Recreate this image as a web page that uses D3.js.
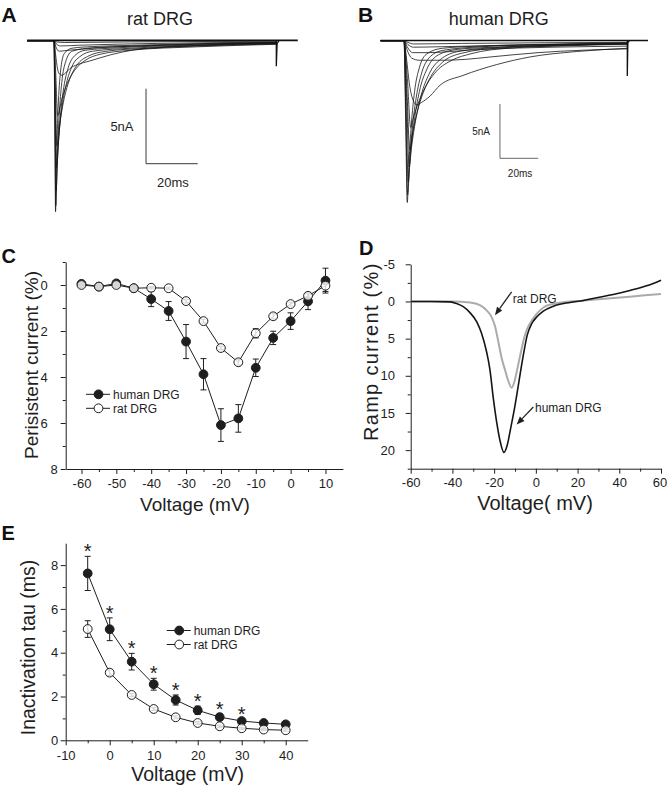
<!DOCTYPE html>
<html><head><meta charset="utf-8">
<script src="https://cdn.jsdelivr.net/npm/d3@7"></script>
<style>
body{margin:0;background:#fff}
svg{display:block;background:#fff}
</style>
</head><body>
<svg id="fig" width="667" height="786"></svg>
<script>
// ---------------- DATA ----------------
// Panel A: rat DRG current traces, [time ms, current nA]
const ratTraces = [
 [[0,0],[1,-0.08],[4,-0.12],[30,-0.08],[86,-0.04]],
 [[0,0],[0.8,-0.2],[2.5,-0.35],[10,-0.3],[40,-0.18],[86,-0.1]],
 [[0,0],[0.7,-0.4],[2,-0.7],[5,-0.65],[15,-0.5],[40,-0.3],[86,-0.15]],
 [[0,0],[0.6,-0.9],[1.4,-1.9],[2.3,-2.25],[3,-2.3],[4.5,-2.15],[6.2,-1.85],[9,-1.6],[13.9,-1.35],[21.7,-0.95],[30.6,-0.62],[43.7,-0.42],[65,-0.25],[86,-0.12]],
 [[0,0],[0.7,-2.3],[1.4,-5],[3,-3.9],[5,-2.9],[8,-1.97],[12,-1.32],[18,-0.9],[30,-0.63],[55,-0.41],[86,-0.24]],
 [[0,0],[0.55,-3.2],[1.1,-7],[2.5,-5.2],[4,-3.8],[6,-2.6],[9,-1.6],[13,-1.05],[20,-0.71],[35,-0.51],[60,-0.33],[86,-0.22]],
 [[0,0],[0.45,-3.8],[0.9,-8.5],[2,-6.1],[3.2,-4.3],[4.8,-2.85],[7,-1.7],[10,-1.06],[15,-0.7],[30,-0.5],[55,-0.33],[86,-0.19]],
 [[0,0],[0.4,-4.5],[0.8,-10],[1.5,-7.5],[2.5,-5.0],[3.8,-3.1],[5.5,-1.8],[8,-1.0],[12,-0.64],[25,-0.47],[50,-0.31],[86,-0.17]],
 [[0,0],[0.35,-5],[0.7,-11],[1.2,-8.1],[2,-5.0],[3,-2.8],[4.5,-1.4],[7,-0.7],[15,-0.47],[30,-0.37],[55,-0.24],[86,-0.14]],
 [[0,0],[0.3,-5.5],[0.6,-11.4],[1,-7.8],[1.6,-4.5],[2.5,-2.1],[4,-0.85],[7,-0.5],[15,-0.39],[30,-0.31],[55,-0.2],[86,-0.12]]
];
const ratSweep = {pre: -10.4, end: 86, post: 94.3, tail: -1.7};
// Panel B: human DRG current traces
const humanTraces = [
 [[0,0],[2,-0.15],[5,-0.3],[30,-0.25],[116.6,-0.15]],
 [[0,0],[2,-0.35],[5,-0.6],[20,-0.55],[60,-0.4],[116.6,-0.3]],
 [[0,0],[1.8,-0.6],[4.5,-1.1],[12,-1.1],[40,-0.8],[116.6,-0.5]],
 [[0,0],[1.5,-0.8],[4,-1.6],[8,-1.8],[20,-1.8],[32,-1.72],[45,-1.5],[70,-1.1],[116.6,-0.75]],
 [[0,0],[1.2,-1.5],[3,-4.2],[4.8,-5.5],[6.6,-5.9],[9,-5.7],[13.6,-5.1],[18.8,-4.1],[30.8,-3.2],[48.4,-2.2],[65.7,-1.5],[90,-1.0],[116.6,-0.7]],
 [[0,0],[1.75,-3.5],[3.5,-8],[5,-7.0],[8,-5.5],[12,-4.0],[17,-2.8],[25,-1.8],[35,-1.2],[55,-0.68],[85,-0.47],[116.6,-0.32]],
 [[0,0],[1.5,-4.5],[3,-10],[4.5,-8.5],[7,-6.5],[10,-4.8],[14,-3.3],[20,-2.0],[30,-1.16],[50,-0.67],[80,-0.46],[116.6,-0.29]],
 [[0,0],[1.35,-5.2],[2.7,-11.6],[4,-9.7],[6,-7.4],[9,-5.0],[13,-3.1],[20,-1.6],[30,-0.94],[50,-0.61],[80,-0.42],[116.6,-0.27]],
 [[0,0],[1.1,-6],[2.2,-13],[3.4,-10.4],[5.2,-7.6],[8,-4.7],[12,-2.6],[18,-1.3],[28,-0.8],[50,-0.58],[80,-0.4],[116.6,-0.25]],
 [[0,0],[0.95,-6.8],[1.9,-14.2],[3,-11.0],[4.5,-7.8],[6.5,-5.1],[9,-3.1],[13,-1.6],[20,-0.9],[40,-0.56],[70,-0.38],[116.6,-0.22]],
 [[0,0],[0.85,-7.2],[1.7,-14.9],[2.6,-11.2],[3.8,-7.8],[5.5,-4.7],[8,-2.5],[12,-1.2],[20,-0.7],[40,-0.49],[70,-0.34],[116.6,-0.2]]
];
const humanSweep = {pre: -12.2, end: 116.6, post: 127.4, tail: -3.25};
const scaleBarLabels = ["5nA", "20ms"];

// Panel C: persistent current (%)
const voltC = [-60,-55,-50,-45,-40,-35,-30,-25,-20,-15,-10,-5,0,5,10];
const humanPers    = [-0.05,0.07,-0.07,0.14,0.61,1.13,2.46,3.88,6.09,5.80,3.60,2.30,1.57,0.71,-0.19];
const humanPersErr = [0.05,0.05,0.08,0.05,0.33,0.41,0.74,0.68,0.71,0.60,0.38,0.29,0.36,0.36,0.54];
const ratPers      = [0.0,0.07,0.0,0.14,0.12,0.14,0.70,1.57,2.74,3.36,2.10,1.36,0.83,0.47,0.03];
const ratPersErr   = [0.05,0.05,0.12,0.05,0.05,0.05,0.08,0.08,0.08,0.12,0.20,0.12,0.08,0.12,0.25];
const ticksCx = [-60,-50,-40,-30,-20,-10,0,10];
const ticksCy = [0,2,4,6,8];

// Panel D: ramp current (%)
const rampVoltHuman = [-60,-50,-41,-38,-34.8,-31.6,-28.4,-26,-23.6,-22,-20.4,-18.8,-17.2,-15.3,-13.7,-12.1,-10.5,-8.4,-6.3,-4.1,-2,0.4,3.6,8.4,16.4,22.7,29.1,37.1,45.1,53.1,60];
const rampHuman     = [0,0,0.05,0.27,0.7,1.5,2.7,4.3,6.8,9.2,13.0,16.2,18.7,20.3,19.3,17.1,14.8,11.3,7.7,4.5,3.0,2.1,1.3,0.63,0.13,-0.13,-0.5,-0.94,-1.48,-2.1,-2.87];
const rampVoltRat = [-60,-40,-31.6,-26.8,-23.6,-21.2,-19.6,-18,-16.4,-14.8,-13.2,-11.6,-10.2,-8.6,-7,-5.5,-4,-2,0,2,5,10,15,20,30,45,60];
const rampRat     = [0,0,0.13,0.5,1.2,2.1,3.3,5.4,7.6,9.2,10.7,11.6,10.7,8.7,6.6,4.8,3.6,2.6,1.8,1.2,0.6,0.25,0.05,-0.05,-0.3,-0.65,-1.0];
const ticksDx = [-60,-40,-20,0,20,40,60];
const ticksDy = [-5,0,5,10,15,20];

// Panel E: inactivation tau (ms)
const voltE = [-5,0,5,10,15,20,25,30,35,40];
const humanTau    = [7.62,5.07,3.59,2.56,1.84,1.37,1.06,0.88,0.79,0.73];
const humanTauErr = [0.78,0.52,0.38,0.27,0.23,0.19,0.14,0.10,0.06,0.06];
const ratTau      = [5.08,3.09,2.07,1.43,1.05,0.79,0.64,0.55,0.49,0.46];
const ratTauErr   = [0.38,0.13,0.07,0.07,0.07,0.07,0.06,0.05,0.05,0.05];
const sigVoltE = [-5,0,5,10,15,20,25,30];
const ticksEx = [-10,0,10,20,30,40];
const ticksEy = [0,2,4,6,8];

const seriesNames = ["human DRG", "rat DRG"];

// ---------------- DRAWING ----------------
const FONT = '"Liberation Sans", Arial, Helvetica, sans-serif';
const INK = "#1e1e1e";
const svg = d3.select("#fig");

function text(x, y, s, size, o = {}) {
  const t = svg.append("text").attr("x", x).attr("y", y).text(s)
    .attr("font-family", FONT).attr("font-size", size)
    .attr("fill", o.fill || INK)
    .attr("text-anchor", o.anchor || "start");
  if (o.weight) t.attr("font-weight", o.weight);
  if (o.rotate) t.attr("transform", `rotate(-90,${x},${y})`);
  if (o.ls) t.attr("letter-spacing", o.ls);
  return t;
}

function drawAxis(orient, scale, pos, major, minor, pad, fs = 13) {
  const mk = orient === "left" ? d3.axisLeft : d3.axisBottom;
  const tr = orient === "left" ? `translate(${pos},0)` : `translate(0,${pos})`;
  const gMin = svg.append("g").attr("transform", tr)
    .call(mk(scale).tickValues(minor).tickSize(3).tickSizeOuter(0).tickFormat(""));
  gMin.select(".domain").remove();
  const g = svg.append("g").attr("transform", tr)
    .call(mk(scale).tickValues(major).tickSize(5).tickSizeOuter(0).tickPadding(pad).tickFormat(d => String(d)));
  [g, gMin].forEach(a => {
    a.selectAll("line").attr("stroke", INK).attr("stroke-width", 1);
    a.selectAll(".domain").attr("stroke", INK).attr("stroke-width", 1);
  });
  g.selectAll("text").attr("font-family", FONT).attr("font-size", fs).attr("fill", INK);
  return g;
}

// ---- Panels A & B: traces ----
function tracePanel(traces, sweep, xs, ys, lw) {
  const line = d3.line().x(d => xs(d[0])).y(d => ys(d[1])).curve(d3.curveMonotoneX);
  const g = svg.append("g");
  traces.forEach(tr => {
    g.append("path").attr("d", line([[sweep.pre, 0], ...tr]))
      .attr("fill", "none").attr("stroke", "#151515").attr("stroke-width", lw);
  });
  const lin = d3.line().x(d => xs(d[0])).y(d => ys(d[1]));
  g.append("path").attr("d", lin([[sweep.pre, 0.02], [sweep.post, 0.02]]))
    .attr("stroke", "#111").attr("stroke-width", 1.6).attr("fill", "none");
  g.append("path").attr("d", lin([[sweep.end, 0], [sweep.end, sweep.tail], [sweep.end + 0.3, -0.2], [sweep.end + 1, 0]]))
    .attr("stroke", "#111").attr("stroke-width", 1.3).attr("fill", "none");
}

const xA = d3.scaleLinear().domain([0, 20]).range([54, 105.7]);
const yA = d3.scaleLinear().domain([0, -5]).range([40.7, 115.7]);
tracePanel(ratTraces, ratSweep, xA, yA, 0.8);

const xB = d3.scaleLinear().domain([0, 20]).range([404, 442.3]);
const yB = d3.scaleLinear().domain([0, -5]).range([40.7, 95.0]);
tracePanel(humanTraces, humanSweep, xB, yB, 0.8);

// scale bars
function scaleBar(xs, ys, t0, i0, col, fs, lab) {
  const l = d3.line().x(d => xs(d[0])).y(d => ys(d[1]));
  svg.append("path").attr("d", l([[t0, i0 + 5], [t0, i0], [t0 + 20, i0]]))
    .attr("fill", "none").attr("stroke", col).attr("stroke-width", 1);
  text(xs(t0) - lab.dx, (ys(i0) + ys(i0 + 5)) / 2 + fs * 0.36, scaleBarLabels[0], fs, {anchor: "end"});
  text(xs(t0 + 10) + 1, ys(i0) + lab.dy, scaleBarLabels[1], fs, {anchor: "middle"});
}
scaleBar(xA, yA, 35.6, -8.2, "#3a3a3a", 13, {dx: 12.5, dy: 23.5});
scaleBar(xB, yB, 50.1, -10.83, "#6a6a6a", 10, {dx: 10, dy: 18.2});

text(160, 25, "rat DRG", 18, {anchor: "middle"});
text(498.7, 25, "human DRG", 18, {anchor: "middle"});

// ---- Panel C ----
const xC = d3.scaleLinear().domain([-64.5, 15]).range([65.8, 342.9]);
const yC = d3.scaleLinear().domain([-1, 8]).range([262, 469]);
const gCy = drawAxis("left", yC, 65.7, ticksCy, [-1, 1, 3, 5, 7], 13);
gCy.selectAll(".tick").filter(d => d === 8).select("text").attr("dx", 10);
drawAxis("bottom", xC, 469, ticksCx, [-55, -45, -35, -25, -15, -5, 5], 4.8);

function xyPlot(xs, ys, xv, sets, r) {
  const line = d3.line().x((d, i) => xs(xv[i])).y(d => ys(d));
  sets.forEach(s => svg.append("path").attr("d", line(s.v)).attr("fill", "none")
    .attr("stroke", INK).attr("stroke-width", 1));
  sets.forEach(s => {
    s.v.forEach((m, i) => {
      const e = s.e[i], x = xs(xv[i]);
      svg.append("path").attr("d", `M${x},${ys(m - e)}V${ys(m + e)}M${x - 3},${ys(m - e)}h6M${x - 3},${ys(m + e)}h6`)
        .attr("stroke", INK).attr("stroke-width", 1).attr("fill", "none");
    });
  });
  sets.forEach(s => {
    svg.append("g").selectAll("circle").data(s.v).join("circle")
      .attr("cx", (d, i) => xs(xv[i])).attr("cy", d => ys(d)).attr("r", r)
      .attr("fill", s.filled ? INK : "#fff").attr("stroke", INK).attr("stroke-width", 1)
      .attr("fill-opacity", s.filled ? 1 : 0.82);
  });
}
xyPlot(xC, yC, voltC, [
  {v: humanPers, e: humanPersErr, filled: true},
  {v: ratPers, e: ratPersErr, filled: false}
], 4.4);

function legend(x0, y0, dy) {
  seriesNames.forEach((n, i) => {
    const y = y0 + i * dy;
    svg.append("line").attr("x1", x0).attr("x2", x0 + 24).attr("y1", y).attr("y2", y)
      .attr("stroke", INK).attr("stroke-width", 1);
    svg.append("circle").attr("cx", x0 + 12.5).attr("cy", y).attr("r", 4.4)
      .attr("fill", i === 0 ? INK : "#fff").attr("stroke", INK);
    text(x0 + 27, y + 4.3, n, 12);
  });
}
legend(86, 394.3, 14);

text(37.5, 365, "Perisistent current (%)", 19, {anchor: "middle", rotate: true});
text(195, 511, "Voltage (mV)", 19, {anchor: "middle"});

// ---- Panel D ----
const xD = d3.scaleLinear().domain([-60, 60]).range([410.7, 661]);
const yD = d3.scaleLinear().domain([-5, 22.5]).range([264.3, 468.7]);
drawAxis("left", yD, 410.7, ticksDy, [-2.5, 2.5, 7.5, 12.5, 17.5, 22.5], 10.7);
const gDx = drawAxis("bottom", xD, 468.7, ticksDx, [-50, -30, -10, 10, 30, 50], 4.4);
gDx.selectAll(".tick").filter(d => d === 60).select("text").attr("dx", -1.5);
const lineD = (xv) => d3.line().x((d, i) => xD(xv[i])).y(d => yD(d)).curve(d3.curveMonotoneX);
svg.append("path").attr("d", lineD(rampVoltRat)(rampRat)).attr("fill", "none")
  .attr("stroke", "#ababab").attr("stroke-width", 2);
svg.append("path").attr("d", lineD(rampVoltHuman)(rampHuman)).attr("fill", "none")
  .attr("stroke", "#151515").attr("stroke-width", 1.6);

function arrow(x1, y1, x2, y2) {
  const a = Math.atan2(y2 - y1, x2 - x1), L = 8, W = 3.2;
  const bx = x2 - L * Math.cos(a), by = y2 - L * Math.sin(a);
  svg.append("line").attr("x1", x1).attr("y1", y1).attr("x2", bx).attr("y2", by)
    .attr("stroke", INK).attr("stroke-width", 1.2);
  svg.append("path").attr("d", `M${x2},${y2}L${bx + W * Math.sin(a)},${by - W * Math.cos(a)}L${bx - W * Math.sin(a)},${by + W * Math.cos(a)}Z`)
    .attr("fill", INK);
}
arrow(xD(-11.6), yD(-1.3), xD(-19.6), yD(1.84));
text(xD(-11.1), yD(0.16), seriesNames[1], 12);
arrow(xD(-1.2), yD(14.2), xD(-9.2), yD(16.55));
text(xD(-0.4), yD(14.9), seriesNames[0], 12);

text(378, 351.7, "Ramp current (%)", 20, {anchor: "middle", rotate: true, ls: 1.3});
text(535, 510, "Voltage( mV)", 20, {anchor: "middle"});

// ---- Panel E ----
const xE = d3.scaleLinear().domain([-10, 45]).range([65.7, 307.7]);
const yE = d3.scaleLinear().domain([0, 9]).range([740.3, 543.2]);
drawAxis("left", yE, 65.7, ticksEy, [1, 3, 5, 7], 2.5);
drawAxis("bottom", xE, 740.3, ticksEx, [-5, 5, 15, 25, 35], 5.5);
xyPlot(xE, yE, voltE, [
  {v: humanTau, e: humanTauErr, filled: true},
  {v: ratTau, e: ratTauErr, filled: false}
], 4.4);
sigVoltE.forEach(v => {
  const i = voltE.indexOf(v);
  text(xE(v), yE(humanTau[i] + humanTauErr[i]) + 2, "*", 20, {anchor: "middle"});
});
legend(166.7, 630.5, 14);
text(35, 647.5, "Inactivation tau (ms)", 19.5, {anchor: "middle", rotate: true});
text(187.7, 780.5, "Voltage (mV)", 19.5, {anchor: "middle"});

// ---- panel letters ----
[["A", 1.5, 21.7, 21], ["B", 358, 21.7, 21], ["C", 1.5, 263.3, 20], ["D", 359, 255, 20], ["E", 1.5, 540, 20]]
  .forEach(([s, x, y, f]) => text(x, y, s, f, {weight: "bold", fill: "#111"}));
</script>
</body></html>
